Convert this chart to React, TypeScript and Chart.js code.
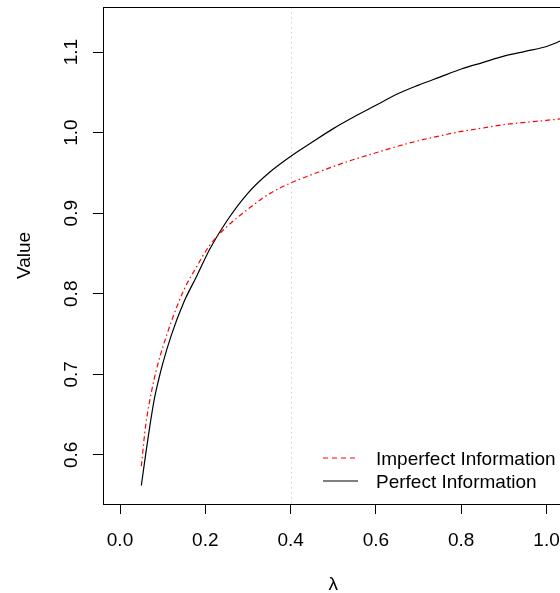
import { useEffect, useRef } from "react";
import { Chart, registerables } from "chart.js";

Chart.register(...registerables);

// ---- data ----
const lambdaValues = [0.05, 0.06, 0.07, 0.08, 0.09, 0.1, 0.12, 0.15, 0.18, 0.21, 0.25, 0.3, 0.35, 0.4, 0.45, 0.5, 0.55, 0.6, 0.65, 0.7, 0.75, 0.8, 0.85, 0.9, 0.95, 1.0, 1.05];
const perfectValues = [0.562, 0.600, 0.636, 0.668, 0.692, 0.713, 0.748, 0.790, 0.822, 0.855, 0.890, 0.925, 0.9505, 0.9705, 0.988, 1.005, 1.020, 1.034, 1.048, 1.059, 1.069, 1.079, 1.087, 1.095, 1.101, 1.107, 1.118];
const imperfectValues = [0.586, 0.636, 0.668, 0.694, 0.715, 0.733, 0.765, 0.805, 0.834, 0.860, 0.883, 0.905, 0.924, 0.9375, 0.948, 0.958, 0.967, 0.975, 0.983, 0.990, 0.996, 1.0015, 1.0057, 1.010, 1.0127, 1.0153, 1.018];
const seriesLabels = ["Imperfect Information", "Perfect Information"];
const xTickValues = [0, 0.2, 0.4, 0.6, 0.8, 1.0];
const yTickValues = [0.6, 0.7, 0.8, 0.9, 1.0, 1.1];
const xTitle = "λ";
const yTitle = "Value";
const referenceLambda = 0.4;

const FONT = "Liberation Sans, Arial, Helvetica, sans-serif";
const FS = 19;

export default function App() {
  const ref = useRef<HTMLCanvasElement | null>(null);

  useEffect(() => {
    const canvas = ref.current;
    if (!canvas) return;

    const overlay = {
      id: "rOverlay",
      beforeDatasetsDraw(chart: any) {
        const { ctx, chartArea, scales } = chart;
        const x = Math.round(scales.x.getPixelForValue(referenceLambda)) + 0.5;
        ctx.save();
        ctx.strokeStyle = "#cfcfcf";
        ctx.lineWidth = 1;
        ctx.setLineDash([1.5, 3.5]);
        ctx.beginPath();
        ctx.moveTo(x, chartArea.top);
        ctx.lineTo(x, chartArea.bottom);
        ctx.stroke();
        ctx.restore();
      },
      afterDraw(chart: any) {
        const { ctx, chartArea, scales } = chart;
        ctx.save();
        // box
        ctx.strokeStyle = "#000";
        ctx.lineWidth = 1;
        ctx.setLineDash([]);
        ctx.strokeRect(Math.round(chartArea.left) + 0.5, Math.round(chartArea.top) + 0.5,
          chartArea.right - chartArea.left, chartArea.bottom - chartArea.top);
        ctx.fillStyle = "#000";
        ctx.font = `${FS}px ${FONT}`;
        // x tick labels
        ctx.textAlign = "center";
        ctx.textBaseline = "alphabetic";
        for (const v of xTickValues) {
          ctx.fillText(v.toFixed(1), scales.x.getPixelForValue(v), chartArea.bottom + 42);
        }
        // y tick labels (rotated)
        for (const v of yTickValues) {
          ctx.save();
          ctx.translate(chartArea.left - 26, scales.y.getPixelForValue(v));
          ctx.rotate(-Math.PI / 2);
          ctx.fillText(v.toFixed(1), 0, 0);
          ctx.restore();
        }
        // axis titles
        ctx.fillText(xTitle, (chartArea.left + chartArea.right) / 2, chartArea.bottom + 86);
        ctx.save();
        ctx.translate(30, (chartArea.top + chartArea.bottom) / 2);
        ctx.rotate(-Math.PI / 2);
        ctx.fillText(yTitle, 0, 0);
        ctx.restore();
        // legend
        const lx0 = chartArea.right - 240.6;
        const lx1 = chartArea.right - 205.6;
        const tx = chartArea.right - 187.6;
        const rows = [
          { y: chartArea.bottom - 46, color: "#ff0000", dash: [5, 4], label: seriesLabels[0] },
          { y: chartArea.bottom - 23, color: "#000000", dash: [], label: seriesLabels[1] },
        ];
        ctx.textAlign = "left";
        for (const r of rows) {
          ctx.strokeStyle = r.color;
          ctx.lineWidth = 1;
          ctx.setLineDash(r.dash);
          ctx.beginPath();
          ctx.moveTo(lx0, r.y);
          ctx.lineTo(lx1, r.y);
          ctx.stroke();
          ctx.fillText(r.label, tx, r.y + 6.5);
        }
        ctx.restore();
      },
    };

    const chart = new Chart(canvas, {
      type: "line",
      data: {
        datasets: [
          {
            label: seriesLabels[0],
            data: lambdaValues.map((x, i) => ({ x, y: imperfectValues[i] })),
            borderColor: "#ff0000",
            borderWidth: 1.2,
            borderDash: [5, 3, 1.5, 3],
            pointRadius: 0,
            cubicInterpolationMode: "monotone",
            fill: false,
          },
          {
            label: seriesLabels[1],
            data: lambdaValues.map((x, i) => ({ x, y: perfectValues[i] })),
            borderColor: "#000000",
            borderWidth: 1.2,
            pointRadius: 0,
            cubicInterpolationMode: "monotone",
            fill: false,
          },
        ],
      },
      options: {
        animation: false,
        responsive: false,
        devicePixelRatio: 1,
        layout: { padding: { left: 0, top: 7, right: 36.4, bottom: 0 } },
        plugins: { legend: { display: false }, tooltip: { enabled: false } },
        scales: {
          x: {
            type: "linear",
            min: -0.04,
            max: 1.04,
            afterBuildTicks: (s: any) => { s.ticks = xTickValues.map((value) => ({ value })); },
            afterFit: (s: any) => { s.height = 89; },
            ticks: { color: "rgba(0,0,0,0)", font: { family: FONT, size: 1 }, maxRotation: 0, autoSkip: false, padding: 0 },
            grid: { drawOnChartArea: false, drawTicks: true, tickLength: 10, color: "#000", lineWidth: 1 },
            border: { display: false },
          },
          y: {
            type: "linear",
            min: 0.539,
            max: 1.156,
            afterBuildTicks: (s: any) => { s.ticks = yTickValues.map((value) => ({ value })); },
            afterFit: (s: any) => { s.width = 102.94; },
            ticks: { color: "rgba(0,0,0,0)", font: { family: FONT, size: 1 }, autoSkip: false, padding: 0 },
            grid: { drawOnChartArea: false, drawTicks: true, tickLength: 10, color: "#000", lineWidth: 1 },
            border: { display: false },
          },
        },
      },
      plugins: [overlay],
    });

    return () => chart.destroy();
  }, []);

  return (
    <div style={{ position: "fixed", left: 0, top: 0, width: 560, height: 593, overflow: "hidden", background: "#fff" }}>
      <canvas ref={ref} width={600} height={593} style={{ width: 600, height: 593, display: "block" }} />
    </div>
  );
}
